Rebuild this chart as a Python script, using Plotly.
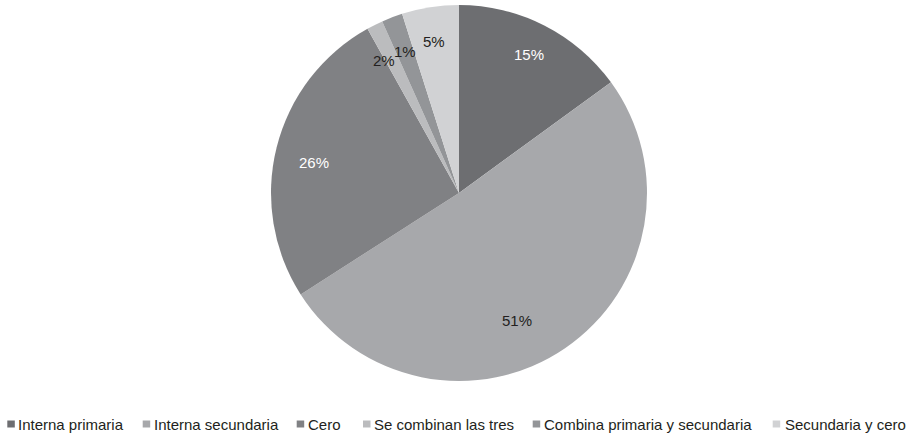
import plotly.graph_objects as go

# ---- data ----
categories = ["Interna primaria", "Interna secundaria", "Cero",
              "Se combinan las tres", "Combina primaria y secundaria", "Secundaria y cero"]
# slice sizes (percent)
values = [15, 51, 26, 1.4, 1.8, 4.9]
# percent labels as printed on the chart
value_labels = ["15%", "51%", "26%", "2%", "1%", "5%"]

# ---- styles ----
colors = ["#6d6e71", "#a7a8ab", "#808184", "#bbbcbe", "#939598", "#d1d2d4"]
label_colors = ["#ffffff", "#231f20", "#ffffff", "#231f20", "#231f20", "#231f20"]
W, H = 916, 436
FONT = "Liberation Sans, Arial, Helvetica, sans-serif"

# pie geometry (pixels)
cx, cy, R = 459, 193, 188

# label centres (pixels)
label_xy = [(529, 54), (517, 320), (314, 162.5), (384, 60), (405, 51), (434, 41)]

# legend layout (pixels)
legend_sq_x = [7.3, 142.7, 296.7, 363, 532.7, 772.7]
legend_txt_x = [17.3, 152.7, 307, 372.7, 543.3, 784.3]
legend_y = 424

fig = go.Figure()
fig.add_trace(go.Pie(
    labels=categories,
    values=values,
    sort=False,
    direction="clockwise",
    rotation=0,
    marker=dict(colors=colors, line=dict(width=0)),
    textinfo="none",
    hoverinfo="label+percent",
    showlegend=False,
    domain=dict(x=[(cx - R) / W, (cx + R) / W],
                y=[1 - (cy + R) / H, 1 - (cy - R) / H]),
))

annotations = []
for (lx, ly), txt, col in zip(label_xy, value_labels, label_colors):
    annotations.append(dict(
        x=lx / W, y=1 - ly / H, xref="paper", yref="paper",
        text=txt, showarrow=False, xanchor="center", yanchor="middle",
        font=dict(family=FONT, size=15, color=col),
    ))

shapes = []
for sx, tx, name, col in zip(legend_sq_x, legend_txt_x, categories, colors):
    shapes.append(dict(
        type="rect", xref="paper", yref="paper",
        x0=sx / W, x1=(sx + 7.5) / W,
        y0=1 - (legend_y + 3.5) / H, y1=1 - (legend_y - 3.5) / H,
        fillcolor=col, line=dict(width=0),
    ))
    annotations.append(dict(
        x=tx / W, y=1 - legend_y / H, xref="paper", yref="paper",
        text=name, showarrow=False, xanchor="left", yanchor="middle",
        xshift=-1,
        font=dict(family=FONT, size=15, color="#231f20"),
    ))

fig.update_layout(
    width=W, height=H,
    margin=dict(l=0, r=0, t=0, b=0),
    paper_bgcolor="white",
    plot_bgcolor="white",
    annotations=annotations,
    shapes=shapes,
    showlegend=False,
)

fig.write_html(
    "out.html",
    config={"displayModeBar": False},
    post_script="document.body.style.margin='0';document.body.style.overflow='hidden';",
)
